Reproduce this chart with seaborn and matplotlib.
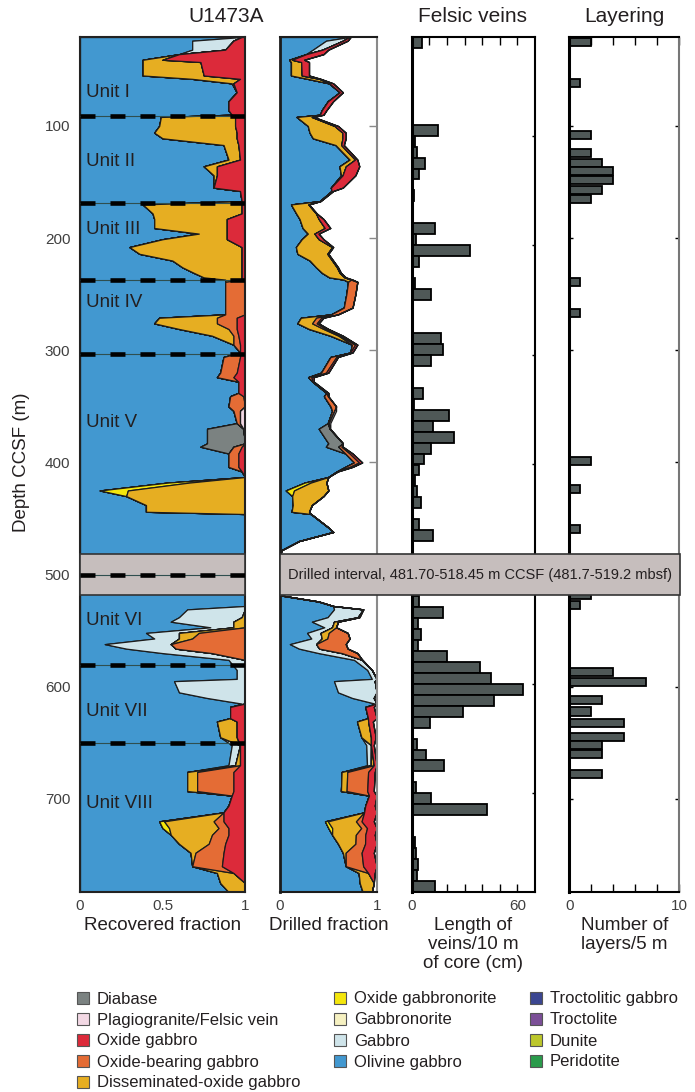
import numpy as np
import pandas as pd
import seaborn as sns
import matplotlib
matplotlib.use("Agg")
import matplotlib.pyplot as plt
from matplotlib.patches import Patch, Rectangle
import matplotlib.transforms as mtransforms

# ---------------- data ----------------
depth_m = [20.7, 24, 32, 36, 41, 43, 55, 58, 62, 70,
           78, 86, 90, 92, 100, 106, 111, 117, 130, 136,
           144, 155, 158, 167, 170, 178, 183, 191, 196, 201,
           208, 214, 220, 226, 231, 235, 237, 239, 250, 262,
           268, 271, 276, 281, 287, 295, 302, 306, 320, 324,
           328, 338, 341, 350, 354, 365, 370, 383, 386, 392,
           400, 404, 408, 413, 418, 425, 430, 438, 444, 446,
           458, 462, 470, 478, 481.7, 518.45, 524, 528, 531, 538,
           542, 547, 552, 557, 562, 566, 570, 576, 585, 593,
           595, 605, 610, 615, 618, 628, 631, 645, 652, 670,
           676, 693, 697, 706, 712, 720, 726, 732, 740, 748,
           760, 766, 775, 783]

olivine_gabbro = [.98, .68, .68, .60, .38, .38, .38, .68, .92, .95,
                  .90, .90, .92, .49, .48, .45, .50, .87, .90, .75,
                  .81, .81, .97, .98, .38, .44, .45, .45, .72, .50,
                  .30, .36, .56, .62, .69, .75, .88, .88, .88, .88,
                  .88, .48, .45, .60, .80, .93, .97, .87, .85, .83,
                  .96, .96, .91, .90, .93, .95, .77, .77, .73, .90,
                  .90, .90, .98, 1.0, .53, .12, .28, .40, .40, 1.0,
                  1.0, 1.0, 1.0, 1.0, 1.0, 1.0, 1.0, 1.0, .65, .60,
                  .55, .79, .40, .45, .15, .28, .50, .90, .95, .95,
                  .57, .60, .77, .98, .91, .91, .83, .85, .92, .90,
                  .65, .65, .92, .90, .87, .48, .50, .55, .60, .67,
                  .68, .83, .85, .90]

gabbro = [0, .25, .20, 0, 0, 0, 0, 0, 0, 0,
          0, 0, 0, 0, 0, 0, 0, 0, 0, 0,
          0, 0, 0, 0, 0, 0, 0, 0, 0, 0,
          0, 0, 0, 0, 0, 0, 0, 0, 0, 0,
          0, 0, 0, 0, 0, 0, 0, 0, 0, 0,
          0, 0, 0, 0, 0, 0, 0, 0, 0, 0,
          0, 0, 0, 0, 0, 0, 0, 0, 0, 0,
          0, 0, 0, 0, 0, 0, 0, 0, .35, .38,
          .38, .14, .20, .15, .40, .30, .30, .10, .05, .05,
          .43, .40, .23, .02, 0, 0, 0, 0, .05, .04,
          0, 0, 0, 0, 0, 0, 0, 0, 0, 0,
          0, 0, 0, 0]

diabase = [0] * 56 + [.22, .23, .20] + [0] * 55

oxide_gabbronorite = ([0] * 64 + [.13, .17] + [0] * 39 + [.03, .04] + [0] * 7)

disseminated_oxide = [0, 0, 0, 0, .12, .35, .37, .29, .01, 0,
                      0, 0, 0, .45, .46, .50, .45, .09, .07, .08,
                      .02, 0, 0, 0, .60, .54, .44, .44, .17, .39,
                      .68, .62, .42, .36, .29, .23, .10, 0, 0, 0,
                      0, .35, .38, .30, .13, 0, 0, 0, 0, 0,
                      0, 0, 0, 0, 0, 0, 0, 0, 0, 0,
                      0, 0, 0, 0, .34, .71, .72, .60, .60, 0,
                      0, 0, 0, 0, 0, 0, 0, 0, 0, .02,
                      .07, .07, .12, .08, 0, 0, 0, 0, 0, 0,
                      0, 0, 0, 0, 0, 0, .12, .10, 0, .03,
                      .06, .06, 0, 0, 0, .30, .30, .25, .18, .03,
                      0, .10, .15, .10]

oxide_bearing = [0, 0, 0, 0, 0, 0, 0, 0, 0, 0,
                 0, 0, 0, 0, 0, 0, 0, 0, 0, 0,
                 0, 0, 0, 0, 0, 0, 0, 0, 0, 0,
                 0, 0, 0, 0, 0, 0, 0, .12, .12, .12,
                 .12, .12, .12, .05, .03, .04, 0, .10, .10, .10,
                 0, 0, .08, .10, .04, .02, 0, 0, .05, .06,
                 .06, .06, 0, 0, 0, 0, 0, 0, 0, 0,
                 0, 0, 0, 0, 0, 0, 0, 0, 0, 0,
                 0, 0, .28, .32, .45, .42, .20, 0, 0, 0,
                 0, 0, 0, 0, 0, 0, 0, 0, 0, 0,
                 .22, .22, 0, 0, 0, .06, .06, .10, .10, .17,
                 .18, 0, 0, 0]

oxide_gabbro = [.02, .07, .12, .40, .50, .27, .25, .03, .07, .05,
                .10, .10, .08, .06, .06, .05, .05, .04, .03, .17,
                .17, .19, .03, .02, .02, .02, .11, .11, .11, .11,
                .02, .02, .02, .02, .02, .02, .02, 0, 0, 0,
                0, .05, .05, .05, .04, .03, .03, .03, .05, .07,
                .04, .04, .01, 0, 0, 0, 0, 0, .02, .04,
                .04, .04, .02, 0, 0, 0, 0, 0, 0, 0,
                0, 0, 0, 0, 0, 0, 0, 0, 0, 0,
                0, 0, 0, 0, 0, 0, 0, 0, 0, 0,
                0, 0, 0, 0, .09, .09, .05, .05, .03, .03,
                .07, .07, .08, .10, .13, .13, .10, .10, .12, .13,
                .14, .07, 0, 0]

felsic_vein = [0] * 54 + [.03, .03, .01] + [0] * 57

recovery = [.73, .70, .50, .45, .25, .30, .30, .42, .55, .65,
            .55, .48, .45, .35, .60, .68, .68, .66, .80, .82,
            .78, .65, .55, .42, .30, .38, .45, .52, .40, .45,
            .55, .50, .55, .60, .63, .68, .75, .80, .78, .75,
            .60, .45, .40, .50, .65, .80, .75, .60, .50, .35,
            .35, .50, .50, .58, .58, .52, .52, .65, .65, .75,
            .85, .75, .60, .50, .48, .50, .45, .33, .30, .32,
            .50, .55, .20, .02, 0, 0, .40, .55, .86, .82,
            .60, .58, .70, .72, .68, .70, .80, .85, .95, 1.0,
            .98, 1.0, .97, 1.0, .97, 1.0, .96, .99, .97, 1.0,
            .98, .97, 1.0, .98, 1.0, .97, 1.0, .98, 1.0, .97,
            1.0, .98, .97, .95]

unit_names = ["Unit I", "Unit II", "Unit III", "Unit IV", "Unit V",
              "Unit VI", "Unit VII", "Unit VIII"]
unit_label_depth = [70, 132, 192.5, 257, 364, 541, 622, 704]
unit_boundaries = [91, 169, 237, 303, 500, 581, 650]

gap_top, gap_bottom = 481.70, 518.45
gap_text = "Drilled interval, 481.70-518.45 m CCSF (481.7-519.2 mbsf)"

vein_bin_top = [10, 80, 90, 100, 110, 120, 130, 150, 160, 170, 180, 190, 200,
                210, 230, 240, 250, 280, 290, 300, 330, 340, 350, 360, 370,
                380, 390, 400, 410, 420, 430, 450, 460, 520, 530, 540, 550,
                560, 570, 580, 590, 600, 610, 620, 630, 650, 660, 670, 680,
                690, 700, 710, 740, 750, 760, 770, 780]
vein_length_cm = [6, 1, 15, 2, 3, 7.5, 4, 1.3, 1, 0.7, 13, 2.3, 33,
                  4, 2, 11, 0.5, 16.5, 18, 11, 6.6, 1.5, 21, 12, 24,
                  11, 7, 4, 1.7, 2.8, 5.3, 4.4, 12, 4, 17.5, 3.8, 5,
                  3.8, 20, 39, 45, 63, 47, 29, 10.6, 3, 8, 18.6, 0.5,
                  2.6, 11, 43, 2, 2.6, 3.4, 3.2, 13]

layer_depth = [25, 62, 108, 124, 133, 140, 148, 157, 165, 239, 267, 399, 424,
               459, 518, 527, 587, 596, 612, 622, 632, 645, 652, 660, 678]
layer_count = [2, 1, 2, 2, 3, 4, 4, 3, 2, 1, 1, 2, 1,
               1, 2, 1, 4, 7, 3, 2, 5, 5, 3, 3, 3]

legend_labels = ["Diabase", "Plagiogranite/Felsic vein", "Oxide gabbro",
                 "Oxide-bearing gabbro", "Disseminated-oxide gabbro",
                 "Oxide gabbronorite", "Gabbronorite", "Gabbro", "Olivine gabbro",
                 "Troctolitic gabbro", "Troctolite", "Dunite", "Peridotite"]
legend_colors = ["#7b8281", "#f2d8e4", "#dc2a3a", "#e46c35", "#e6ae22",
                 "#f4e60c", "#f6f1c1", "#cfe4ea", "#4298d0",
                 "#3b4691", "#7b4f97", "#bcc72b", "#2a9b4b"]
color_of = dict(zip(legend_labels, legend_colors))

# ---------------- style ----------------
sns.set_style("white")
plt.rcParams["font.family"] = ["Liberation Sans", "DejaVu Sans"]
TXT = "#231f20"
TICK = "#404040"
BAR = "#4f5857"

W, H = 695, 1092
fig = plt.figure(figsize=(W / 100, H / 100), dpi=100)
bot, hgt = 1 - 892 / H, 855 / H
ax1 = fig.add_axes([80 / W, bot, 165 / W, hgt])
ax2 = fig.add_axes([280 / W, bot, 96.7 / W, hgt])
ax3 = fig.add_axes([411.7 / W, bot, 123.3 / W, hgt])
ax4 = fig.add_axes([569.3 / W, bot, 110 / W, hgt])

DEPTH_LIM = (783, 20.7)

stack = [("Olivine gabbro", olivine_gabbro), ("Gabbro", gabbro),
         ("Diabase", diabase), ("Oxide gabbronorite", oxide_gabbronorite),
         ("Disseminated-oxide gabbro", disseminated_oxide),
         ("Oxide-bearing gabbro", oxide_bearing), ("Oxide gabbro", oxide_gabbro),
         ("Plagiogranite/Felsic vein", felsic_vein)]

d = np.asarray(depth_m, dtype=float)
rec = np.asarray(recovery, dtype=float)


def draw_stack(ax, scale):
    left = np.zeros_like(d)
    for name, vals in stack:
        right = left + np.asarray(vals, dtype=float) * scale
        ax.fill_betweenx(d, left, right, facecolor=color_of[name],
                         edgecolor="#1c1c1c", linewidth=0.9, zorder=2)
        left = right


draw_stack(ax1, 1.0)
draw_stack(ax2, rec)

for ax in (ax1, ax2):
    ax.set_xlim(0, 1)
    ax.set_ylim(*DEPTH_LIM)

# main panel: band, unit lines, labels
ax1.add_patch(Rectangle((0, gap_top), 1, gap_bottom - gap_top, facecolor="#c6bebd",
                        edgecolor="#333333", linewidth=1.2, zorder=3, clip_on=False))
for b in unit_boundaries:
    ax1.axhline(b, color="#2f4f4f", lw=0.8, zorder=4)
    ax1.axhline(b, color="black", lw=3.3, linestyle=(0, (3.27, 3.27)),
                solid_capstyle="butt", dash_capstyle="butt", zorder=5)
for name, y in zip(unit_names, unit_label_depth):
    ax1.text(0.035, y, name, fontsize=13.5, color=TXT, va="center", ha="left", zorder=6)

ax1.set_yticks(range(100, 800, 100))
ax1.set_xticks([0, 0.5, 1])
ax1.set_xticklabels(["0", "0.5", "1"])
ax1.tick_params(axis="both", length=0, labelsize=11, labelcolor=TICK, pad=5)
ax1.tick_params(axis="y", pad=7)
ax1.set_xlabel("Recovered fraction", fontsize=13.5, color=TXT, labelpad=3)
for s in ax1.spines.values():
    s.set_color("#222222")
    s.set_linewidth(1.5)

ax2.set_yticks(range(100, 800, 100))
ax2.set_xticks([0, 1])
ax2.set_xticklabels(["0", "1"])
ax2.tick_params(axis="x", length=0, labelsize=11, labelcolor=TICK, pad=5)
ax2.tick_params(axis="y", left=False, right=True, direction="in", length=6,
                width=1, color="#8a8a8a", labelleft=False, labelright=False)
ax2.set_xlabel("Drilled fraction", fontsize=13.5, color=TXT, labelpad=3)
for k, s in ax2.spines.items():
    s.set_color("#1c1c1c")
    s.set_linewidth(1.5)
ax2.spines["left"].set_linewidth(2)
ax2.spines["right"].set_color("#8a8a8a")

# felsic veins
veins = pd.DataFrame({"mid_depth": np.asarray(vein_bin_top, dtype=float) + 5,
                      "length": np.asarray(vein_length_cm, dtype=float)})
sns.histplot(data=veins, y="mid_depth", weights="length",
             binwidth=10, binrange=(10, 790), ax=ax3, color=BAR, edgecolor="black",
             linewidth=1.3, alpha=1)
ax3.set_xlim(0, 70)
ax3.set_ylim(790, 10)
ax3.set_xticks(range(0, 70, 10))
ax3.set_xticklabels(["0", "", "", "", "", "", "60"])
ax3.tick_params(axis="x", top=True, bottom=True, direction="in", length=5.5, width=1,
                color="black", labelsize=11, labelcolor=TICK, pad=5)
ax3.set_yticks(range(100, 800, 100))
ax3.tick_params(axis="y", left=False, right=True, direction="in", length=2.5, width=1,
                color="black", labelleft=False, labelright=False)
ax3.set_ylabel("")
ax3.set_xlabel("Length of\nveins/10 m\nof core (cm)", fontsize=13.5, color=TXT,
               labelpad=3, linespacing=1.15)
for s in ax3.spines.values():
    s.set_color("black")
    s.set_linewidth(1.5)
ax3.spines["left"].set_linewidth(2.2)

# layering
ax4.barh(layer_depth, layer_count, height=7.3, color=BAR, edgecolor="black", linewidth=1.3)
ax4.set_xlim(0, 10)
ax4.set_ylim(*DEPTH_LIM)
ax4.set_xticks(range(0, 11, 2))
ax4.set_xticklabels(["0", "", "", "", "", "10"])
ax4.tick_params(axis="x", top=True, bottom=True, direction="in", length=5.5, width=1,
                color="black", labelsize=11, labelcolor=TICK, pad=5)
ax4.set_yticks(range(100, 800, 100))
ax4.tick_params(axis="y", left=True, right=True, direction="in", length=3, width=1,
                color="black", labelleft=False, labelright=False)
ax4.set_xlabel("Number of\nlayers/5 m", fontsize=13.5, color=TXT, labelpad=3,
               linespacing=1.15)
for s in ax4.spines.values():
    s.set_color("black")
    s.set_linewidth(1.5)
ax4.spines["left"].set_linewidth(2.2)
ax4.spines["right"].set_color("#777777")

# drilled-interval band across the right panels
trans = mtransforms.blended_transform_factory(fig.transFigure, ax1.transData)
fig.add_artist(Rectangle((280 / W, gap_top), 400 / W, gap_bottom - gap_top,
                         transform=trans, facecolor="#c6bebd", edgecolor="#333333",
                         linewidth=1.2, zorder=10))
fig.text(288 / W, (gap_top + gap_bottom) / 2, gap_text, transform=trans,
         fontsize=10.5, color=TXT, va="center", ha="left", zorder=11)

# titles and y label
fig.text(226 / W, 1 - 16 / H, "U1473A", fontsize=15, color=TXT, ha="center", va="center")
fig.text(472 / W, 1 - 16 / H, "Felsic veins", fontsize=15, color=TXT, ha="center", va="center")
fig.text(624 / W, 1 - 16 / H, "Layering", fontsize=15, color=TXT, ha="center", va="center")
fig.text(22 / W, 1 - 462 / H, "Depth CCSF (m)", fontsize=13.5, color=TXT,
         rotation=90, ha="center", va="center")

# legend
handles = [Patch(facecolor=c, edgecolor="#555555", linewidth=0.8) for c in legend_colors]
fig.legend(handles, legend_labels, ncol=3, loc="upper left",
           bbox_to_anchor=(77 / W, 1 - 991.5 / H), frameon=False, fontsize=12.0,
           handlelength=0.72, handleheight=0.72, handletextpad=0.48,
           columnspacing=2.0, labelspacing=0.36, borderaxespad=0, borderpad=0,
           labelcolor=TXT)

fig.savefig("out.png", dpi=100)
